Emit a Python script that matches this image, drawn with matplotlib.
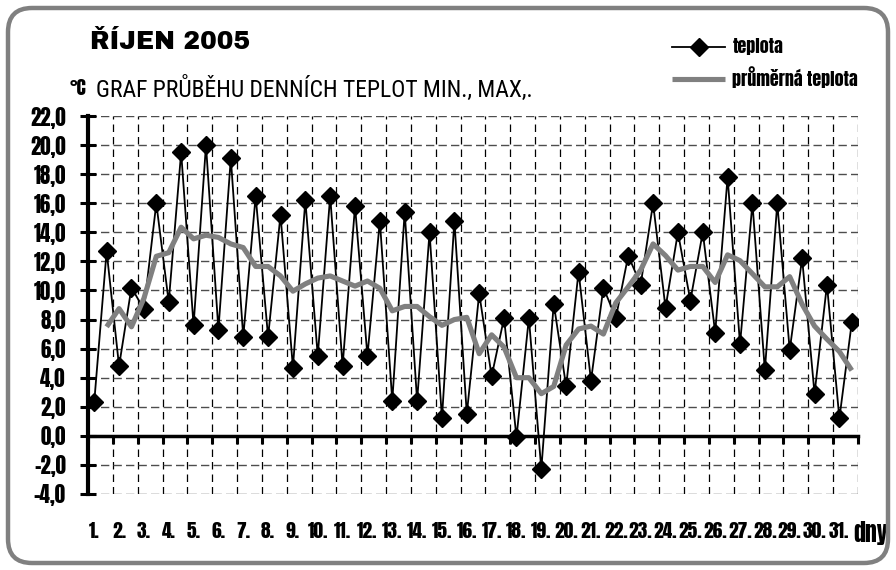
"""
Graf průběhu denních teplot - říjen 2005.
"""

import matplotlib
matplotlib.use("Agg")
import matplotlib.pyplot as plt
import numpy as np
from matplotlib.patches import FancyBboxPatch
from matplotlib.transforms import Affine2D
from matplotlib.ticker import FuncFormatter

# denni minima a maxima, stridave (min, max) pro kazdy den
days = [f"{d}." for d in range(1, 32)]
teplota = [2.3, 12.7, 4.8, 10.2, 8.7, 16.0, 9.2, 19.5, 7.6, 20.0,
           7.3, 19.1, 6.8, 16.5, 6.8, 15.2, 4.7, 16.2, 5.5, 16.5,
           4.8, 15.8, 5.5, 14.8, 2.4, 15.4, 2.4, 14.0, 1.2, 14.8,
           1.5, 9.8, 4.1, 8.1, -0.1, 8.1, -2.3, 9.1, 3.4, 11.3,
           3.8, 10.2, 8.1, 12.4, 10.4, 16.0, 8.8, 14.0, 9.3, 14.0,
           7.1, 17.8, 6.3, 16.0, 4.5, 16.0, 5.9, 12.2, 2.9, 10.4,
           1.2, 7.8]
# prumerna teplota (sedá křivka), od druhého bodu
prumer = [np.nan, 7.5, 8.75, 7.5, 9.45, 12.35, 12.6, 14.35, 13.55, 13.8,
          13.65, 13.2, 12.95, 11.65, 11.65, 11.0, 9.95, 10.45, 10.85, 11.0,
          10.65, 10.3, 10.65, 10.15, 8.6, 8.9, 8.9, 8.2, 7.6, 8.0,
          8.15, 5.65, 6.95, 6.1, 4.0, 4.0, 2.9, 3.4, 6.25, 7.35,
          7.55, 7.0, 9.15, 10.25, 11.4, 13.2, 12.4, 11.4, 11.65, 11.65,
          10.55, 12.45, 12.05, 11.15, 10.25, 10.25, 10.95, 9.05, 7.55, 6.65,
          5.8, 4.5]
y_ticks = list(range(-4, 23, 2))

HEAVY = ["Anton", "DejaVu Sans"]
TITLE = ["Archivo Black", "DejaVu Sans"]
NARROW = ["Roboto Condensed", "Liberation Sans", "DejaVu Sans"]

W, H = 896, 570
fig = plt.figure(figsize=(W / 100, H / 100), dpi=100)
fig.patch.set_facecolor("white")

# zaobleny ramecek kolem celeho grafu
px = Affine2D().scale(1 / W, 1 / H) + fig.transFigure
frame = FancyBboxPatch((8, 7), 880, 555, boxstyle="round,pad=0,rounding_size=24",
                       transform=px, fc="none", ec="#808080", lw=3.2, zorder=0)
fig.patches.append(frame)

ax = fig.add_axes([88 / W, 76 / H, 770 / W, 378 / H])
ax.set_facecolor("none")

x = np.arange(len(teplota))
ax.plot(x, teplota, color="black", lw=1.3, marker="D", ms=9, mfc="black",
        mec="black", zorder=3, label="teplota")
ax.plot(x, prumer, color="#808080", lw=3.7, solid_joinstyle="round",
        solid_capstyle="butt", zorder=4, label="průměrná teplota")

ax.set_xlim(-0.5, len(teplota) - 0.5)
ax.set_ylim(-4, 22)
ax.set_xticks(np.arange(-0.5, len(teplota), 2))
ax.set_yticks(y_ticks)
ax.yaxis.set_major_formatter(FuncFormatter(lambda v, p: f"{v:.1f}".replace(".", ",")))
ax.tick_params(axis="x", labelbottom=False, direction="out", length=6, width=2.2, color="black")
ax.tick_params(axis="y", direction="inout", length=12, width=2.2, pad=10)
for lab in ax.get_yticklabels():
    lab.set_family(HEAVY)
    lab.set_fontsize(15)

ax.grid(axis="x", color="black", lw=0.9, ls=(0, (6, 4)), zorder=1)
ax.grid(axis="y", color="#4d4d4d", lw=1.0, ls=(0, (6, 3)), zorder=1)
ax.set_axisbelow(True)

for side in ("top", "right"):
    ax.spines[side].set_visible(False)
ax.spines["left"].set_linewidth(3)
ax.spines["bottom"].set_position(("data", 0))
ax.spines["bottom"].set_linewidth(2.5)

# popisky dnu pod grafem
xt = ax.get_xaxis_transform()
for i, d in enumerate(days):
    ax.text(2 * i, -0.098, d, transform=xt, ha="center", va="center",
            family=HEAVY, fontsize=14)
ax.text(1.0 + 13 / 770, -0.102, "dny", transform=ax.transAxes, ha="center", va="center",
        family=HEAVY, fontsize=17)

# nadpisy
fig.text(90 / W, 1 - 42 / H, "ŘÍJEN 2005", ha="left", va="center",
         family=TITLE, fontsize=18)
fig.text(70 / W, 1 - 88 / H, "°C", ha="left", va="center",
         family=HEAVY, fontsize=14)
fig.text(96 / W, 1 - 89 / H, "GRAF PRŮBĚHU DENNÍCH TEPLOT MIN., MAX,.", ha="left",
         va="center", family=NARROW, fontsize=17)

leg = ax.legend(loc="upper left", bbox_to_anchor=(672 / W, 1 - 38 / H),
                bbox_transform=fig.transFigure, frameon=False, handlelength=2.95,
                handletextpad=0.4, labelspacing=0.6, borderaxespad=0, borderpad=0,
                prop={"family": HEAVY, "size": 13})

fig.savefig("out.png", dpi=100)
